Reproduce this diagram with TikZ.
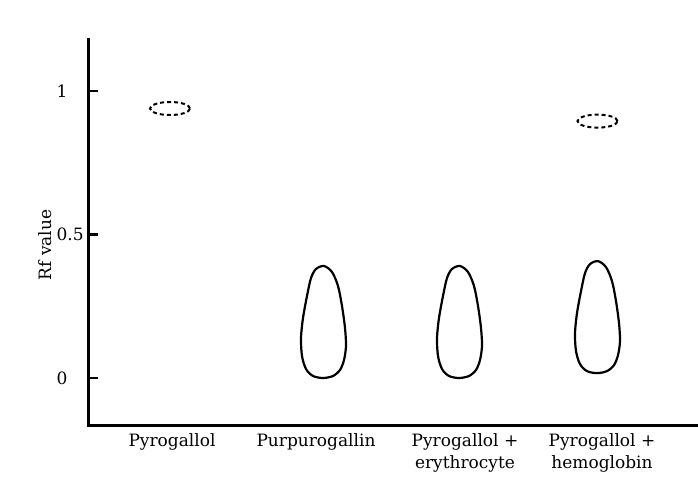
\documentclass[tikz,border=0pt]{standalone}
\usepackage{fontspec}
\setmainfont{DejaVu Serif}

\begin{document}
\begin{tikzpicture}[x=1pt,y=287pt,
  font=\fontsize{17}{22}\selectfont,
  axis/.style={line width=3pt},
  spot/.style={line width=2pt,dash pattern=on 4pt off 3pt},
  blob/.style={line width=2.2pt}]
  \useasboundingbox (-89,-0.3624) rectangle (609,1.3171);
  % axes
  \draw[axis] (0,1.185) -- (0,-0.1638) -- (609,-0.1638);
  \foreach \v/\lab/\n in {0/0/a,0.5/0.5/b,1/1/c} {
    \draw[line width=2.6pt] (0,\v) -- (9,\v);
    \node[anchor=west] (tick\n) at (-36,\v) {\lab};
  }
  \node[rotate=90] (ylab) at (-44,0.463) {Rf value};
  % spots
  \foreach \x/\y in {81/0.939,508.5/0.895}
    \draw[spot] (\x,\y) ellipse [x radius=20pt,y radius=6.5pt];
  \foreach \x/\y in {234/0,370/0,508/0.017} {
    \draw[blob,shift={(\x,\y)}] plot[smooth cycle] coordinates {
      (0pt,0pt) (10pt,2pt) (17pt,8pt) (21pt,18pt) (23pt,32pt) (22pt,50pt)
      (19pt,72pt) (15pt,92pt) (9pt,106pt) (1pt,112pt) (-7pt,109pt)
      (-12pt,100pt) (-16pt,82pt) (-20pt,60pt) (-22pt,40pt) (-21pt,22pt)
      (-17pt,9pt) (-10pt,2pt)};
  }
  % lanes
  \foreach \x/\lab/\n in {83/Pyrogallol/1,227/Purpurogallin/2,
      376/{Pyrogallol +\\erythrocyte}/3,513/{Pyrogallol +\\hemoglobin}/4}
    \node[align=center,anchor=north] (lane\n) at (\x,-0.183) {\lab};
\end{tikzpicture}
\end{document}
